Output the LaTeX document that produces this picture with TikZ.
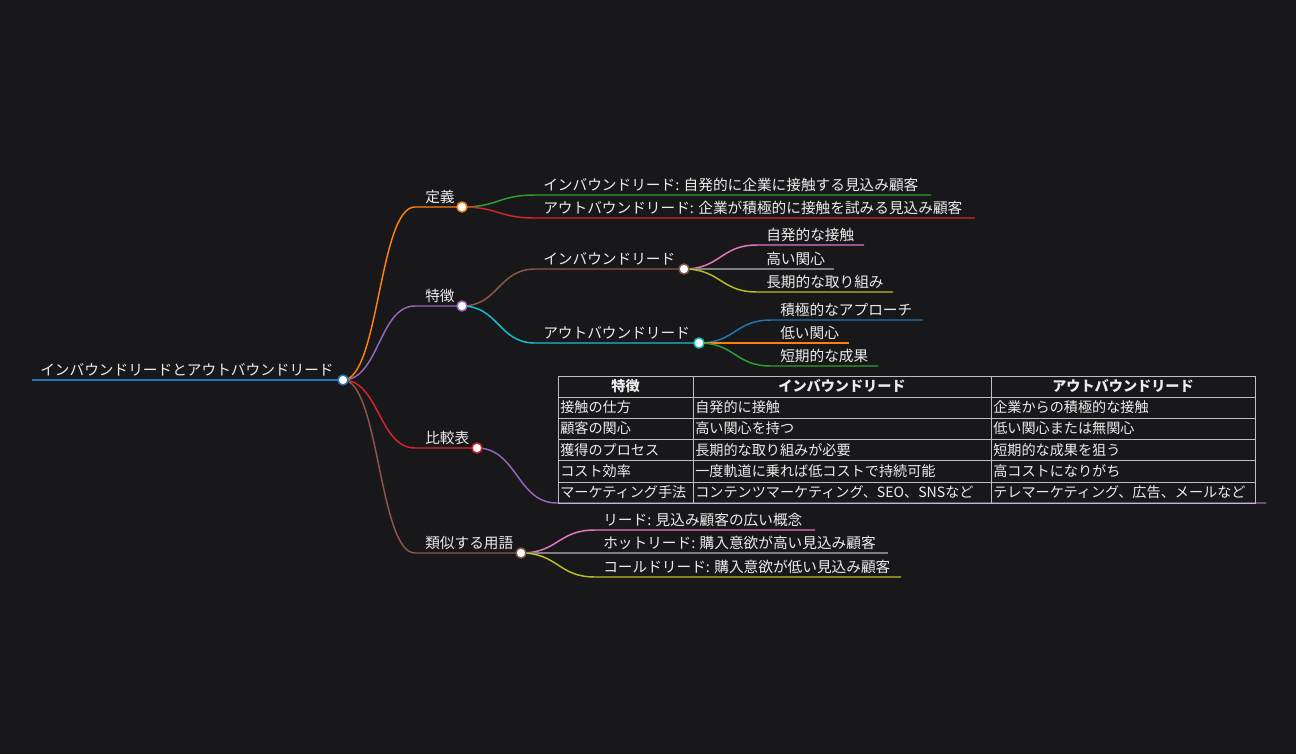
\documentclass[tikz,border=0pt]{standalone}
\usepackage{fontspec}
\setmainfont{Noto Sans CJK JP}
\usepackage{tikz}

\definecolor{bg}{RGB}{24,24,27}
\definecolor{txt}{RGB}{236,236,236}
\definecolor{rule}{RGB}{190,190,190}
\definecolor{mblue}{HTML}{1F77B4}
\definecolor{morange}{HTML}{FF7F0E}
\definecolor{mgreen}{HTML}{2CA02C}
\definecolor{mred}{HTML}{D62728}
\definecolor{mpurple}{HTML}{9467BD}
\definecolor{mbrown}{HTML}{8C564B}
\definecolor{mpink}{HTML}{E377C2}
\definecolor{mgray}{HTML}{7F7F7F}
\definecolor{molive}{HTML}{BCBD22}
\definecolor{mcyan}{HTML}{17BECF}

\tikzset{
  lbl/.style={anchor=base west,inner sep=0pt,text=txt,font=\fontsize{11pt}{13pt}\selectfont},
  cell/.style={anchor=base west,inner sep=0pt,text=txt,font=\fontsize{10.6pt}{12pt}\selectfont},
  head/.style={cell,anchor=base,font=\fontsize{10.6pt}{12pt}\selectfont\bfseries},
  dot/.style={circle,draw=#1,fill=white,line width=1.1pt,minimum size=7.5pt,inner sep=0pt},
  edge/.style={draw=#1,line width=1.1pt},
}
% curved branch: parent -> start of child line -> end of child line
\newcommand\branch[5][36.5]{\draw[edge=#2] (#3) .. controls +(#1,0) and +(-#1,0) .. (#4) -- (#5);}

\begin{document}
\begin{tikzpicture}[x=0.75pt,y=-0.75pt]
  \fill[bg] (0,0) rectangle (1296,754);
  \useasboundingbox (0,0) rectangle (1296,754);
  % centres of the dots
  \coordinate (root) at (343,380);
  \coordinate (def) at (462,207); \coordinate (fea) at (462,306);
  \coordinate (cmp) at (477,448); \coordinate (sim) at (521,553);
  \coordinate (inb) at (684,269); \coordinate (outb) at (699,343);
  % root
  \coordinate (root-s) at (32,380);
  \draw[edge=mblue,line width=1.5pt] (root-s) -- (root);
  \node[lbl] (root-t) at (40,375) {インバウンドリードとアウトバウンドリード};
  % level 1
  \branch[36]{morange}{root}{415,207}{def} \node[lbl] (def-t) at (425,202) {定義};
  \branch[36]{mpurple}{root}{415,306}{fea} \node[lbl] (fea-t) at (425,301) {特徴};
  \branch[36]{mred}{root}{415,448}{cmp} \node[lbl] (cmp-t) at (425,443) {比較表};
  \branch[36]{mbrown}{root}{415,553}{sim} \node[lbl] (sim-t) at (425,548) {類似する用語};
  % 定義
  \branch{mgreen}{def}{535,195}{931,195} \node[lbl] (def1) at (543,190) {インバウンドリード: 自発的に企業に接触する見込み顧客};
  \branch{mred}{def}{535,218}{975,218} \node[lbl] (def2) at (543,213) {アウトバウンドリード: 企業が積極的に接触を試みる見込み顧客};
  % 特徴
  \branch{mbrown}{fea}{535,269}{inb} \node[lbl] (inb-t) at (543,264) {インバウンドリード};
  \branch{mcyan}{fea}{535,343}{outb} \node[lbl] (outb-t) at (543,338) {アウトバウンドリード};
  \branch{mpink}{inb}{757,245}{864,245} \node[lbl] (inb1) at (766,240) {自発的な接触};
  \branch{mgray}{inb}{757,269}{834,269} \node[lbl] (inb2) at (766,264) {高い関心};
  \branch{molive}{inb}{757,292}{893,292} \node[lbl] (inb3) at (766,287) {長期的な取り組み};
  \branch[36]{mblue}{outb}{771,320}{923,320} \node[lbl] (outb1) at (780,315) {積極的なアプローチ};
  \branch[36]{morange}{outb}{771,343}{849,343} \node[lbl] (outb2) at (780,338) {低い関心};
  \branch[36]{mgreen}{outb}{771,366}{878,366} \node[lbl] (outb3) at (780,361) {短期的な成果};
  % 比較表
  \branch[40]{mpurple}{cmp}{557,503}{1266,503}
  \begin{scope}[draw=rule,line width=0.75pt]
    \draw (558,376) rectangle (1255,503.5);
    \draw (693,376) -- (693,503.5); \draw (991,376) -- (991,503.5);
    \foreach \y in {397,418.3,439.6,460.9,482.2} \draw (558,\y) -- (1255,\y);
  \end{scope}
  \node[head] (h1) at (625.5,391) {特徴};
  \node[head] (h2) at (842,391) {インバウンドリード};
  \node[head] (h3) at (1123,391) {アウトバウンドリード};
  \foreach \a/\b/\c [count=\i] in {接触の仕方/自発的に接触/企業からの積極的な接触,
      顧客の関心/高い関心を持つ/低い関心または無関心,
      獲得のプロセス/長期的な取り組みが必要/短期的な成果を狙う,
      コスト効率/一度軌道に乗れば低コストで持続可能/高コストになりがち,
      マーケティング手法/コンテンツマーケティング、SEO、SNSなど/テレマーケティング、広告、メールなど}{
    \node[cell] (a\i) at (560,397+\i*21.3-5.8) {\a};
    \node[cell] (b\i) at (695,397+\i*21.3-5.8) {\b};
    \node[cell] (c\i) at (993,397+\i*21.3-5.8) {\c};
  }
  % 類似する用語
  \branch[37]{mpink}{sim}{595,530}{815,530} \node[lbl] (sim1) at (603,525) {リード: 見込み顧客の広い概念};
  \branch[37]{mgray}{sim}{595,553}{888,553} \node[lbl] (sim2) at (603,548) {ホットリード: 購入意欲が高い見込み顧客};
  \branch[37]{molive}{sim}{595,577}{901,577} \node[lbl] (sim3) at (603,572) {コールドリード: 購入意欲が低い見込み顧客};
  % dots on top
  \node[dot=mblue] (root-d) at (root) {};
  \node[dot=morange] (def-d) at (def) {}; \node[dot=mpurple] (fea-d) at (fea) {};
  \node[dot=mred] (cmp-d) at (cmp) {}; \node[dot=mbrown] (sim-d) at (sim) {};
  \node[dot=mbrown] (inb-d) at (inb) {}; \node[dot=mcyan] (outb-d) at (outb) {};
\end{tikzpicture}
\end{document}
